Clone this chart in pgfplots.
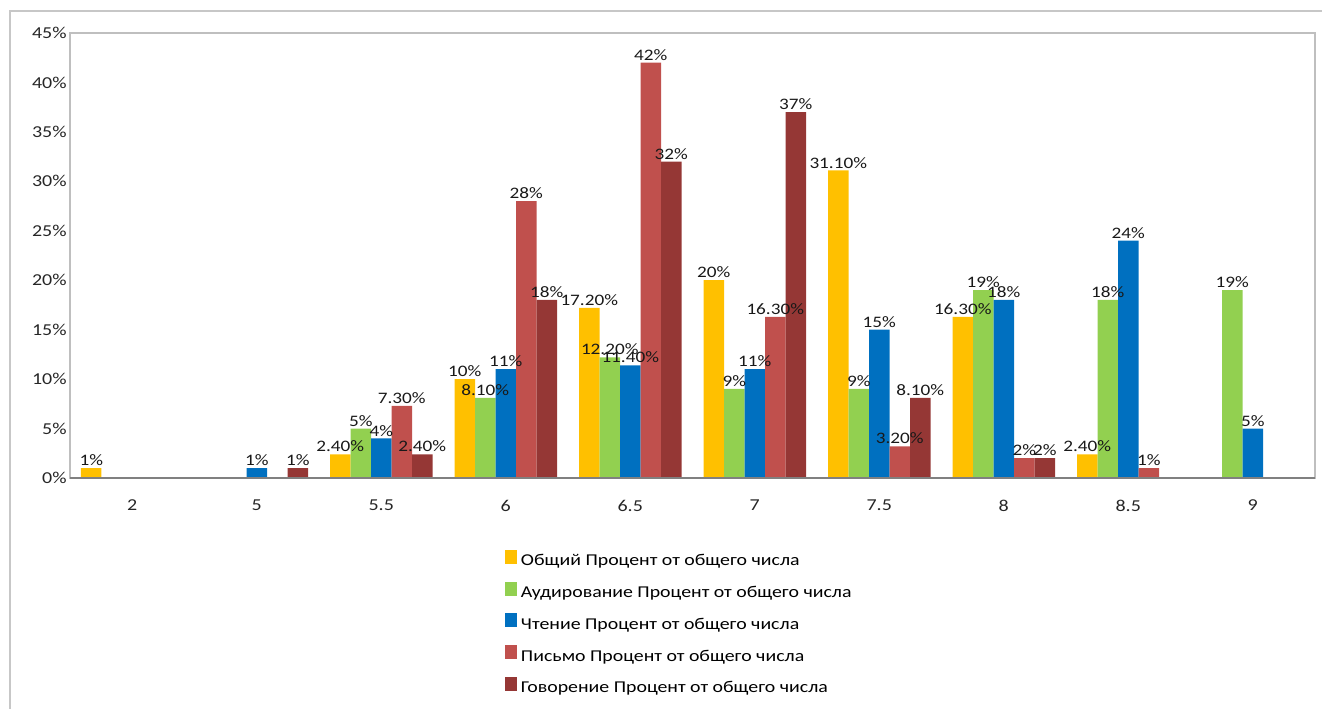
\documentclass[border=0pt]{standalone}
\usepackage{pgfplots}
\pgfplotsset{compat=1.18}
\usepackage{fontspec}
\setmainfont{Carlito}[FakeStretch=1.2]
\definecolor{cY}{HTML}{FFC000}
\definecolor{cG}{HTML}{92D050}
\definecolor{cB}{HTML}{0070C0}
\definecolor{cR}{HTML}{C0504D}
\definecolor{cD}{HTML}{953735}
\begin{document}
\begin{tikzpicture}
\useasboundingbox (0,0) rectangle (991.5pt,531.75pt);
\draw[line width=1.5pt, color=black!22] (7.5pt,0) -- (7.5pt,523.5pt) -- (991.5pt,523.5pt);
\begin{axis}[
  at={(52.5pt,173.25pt)}, anchor=south west,
  scale only axis, width=933.75pt, height=333.75pt,
  xmin=-0.5, xmax=9.5, ymin=0, ymax=45,
  ybar=0pt, bar width=15.375pt,
  xtick={0,...,9}, xticklabels={2,5,5.5,6,6.5,7,7.5,8,8.5,9},
  ytick={0,5,...,45}, yticklabel={\pgfmathprintnumber{\tick}\%},
  /pgf/number format/assume math mode=true,
  major tick length=0pt,
  axis line style={draw=black!25, line width=1pt},
  tick label style={font=\fontsize{12.5}{14}\selectfont, text=black!85},
  yticklabel style={xshift=1pt},
  xticklabel style={yshift=-13pt},
  point meta=explicit symbolic,
  nodes near coords={\pgfplotspointmeta\%},
  nodes near coords style={font=\fontsize{12}{14}\selectfont, text=black!90, inner sep=1.5pt},
  legend cell align=left,
  legend style={at={(0.3494,-0.1618)}, anchor=north west, draw=none, fill=none,
    inner sep=0pt, outer sep=0pt, row sep=8.8pt,
    font=\fontsize{12.4}{14}\selectfont,
    nodes={inner sep=0pt, text height=9pt, text depth=3pt},
    /tikz/every odd column/.append style={column sep=3pt}},
  legend image code/.code={\fill[#1] (0pt,-1.5pt) rectangle (9pt,9pt);},
  clip=false,
]
\addplot[fill=cY, draw=none] coordinates {(0,1) [1] (2,2.4) [2.40] (3,10) [10] (4,17.2) [17.20] (5,20) [20] (6,31.1) [31.10] (7,16.3) [16.30] (8,2.4) [2.40]};
\addlegendentry{Общий Процент от общего числа}
\addplot[fill=cG, draw=none] coordinates {(2,5) [5] (3,8.1) [8.10] (4,12.2) [12.20] (5,9) [9] (6,9) [9] (7,19) [19] (8,18) [18] (9,19) [19]};
\addlegendentry{Аудирование Процент от общего числа}
\addplot[fill=cB, draw=none] coordinates {(1,1) [1] (2,4) [4] (3,11) [11] (4,11.4) [11.40] (5,11) [11] (6,15) [15] (7,18) [18] (8,24) [24] (9,5) [5]};
\addlegendentry{Чтение Процент от общего числа}
\addplot[fill=cR, draw=none] coordinates {(2,7.3) [7.30] (3,28) [28] (4,42) [42] (5,16.3) [16.30] (6,3.2) [3.20] (7,2) [2] (8,1) [1]};
\addlegendentry{Письмо Процент от общего числа}
\addplot[fill=cD, draw=none] coordinates {(1,1) [1] (2,2.4) [2.40] (3,18) [18] (4,32) [32] (5,37) [37] (6,8.1) [8.10] (7,2) [2]};
\addlegendentry{Говорение Процент от общего числа}
\draw[black!50, line width=1.2pt] (rel axis cs:0,0) -- (rel axis cs:1,0);
\end{axis}
\end{tikzpicture}
\end{document}
